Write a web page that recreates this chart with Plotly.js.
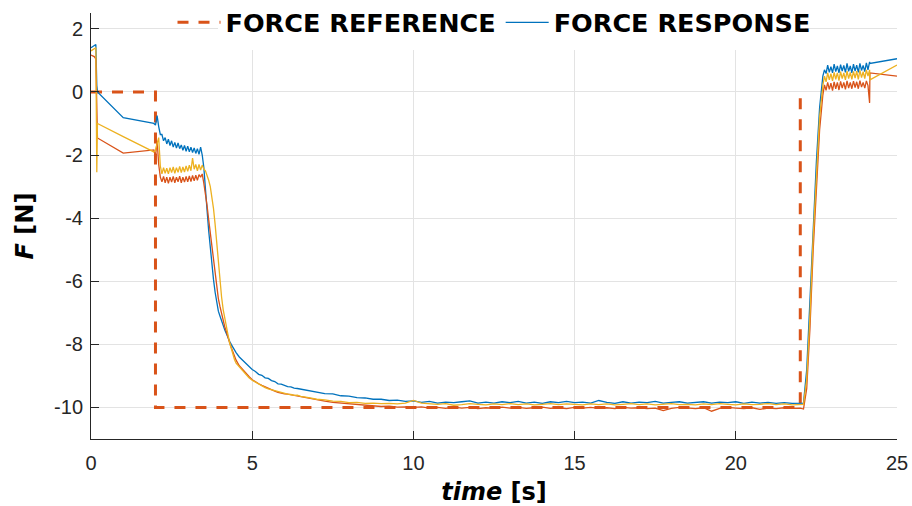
<!DOCTYPE html>
<html>
<head>
<meta charset="utf-8">
<script src="https://cdn.plot.ly/plotly-3.0.1.min.js"></script>
<style>html,body{margin:0;padding:0;background:#fff;}#chart{width:912px;height:506px;}</style>
</head>
<body>
<div id="chart"></div>
<script>
// Force reference (step command)
const refTime = [0, 2, 2, 22, 22];
const refForce = [0, 0, -10, -10, 0];

// Shared time base for the three measured responses [s]
const time = [
  0, 0.1, 0.15, 0.18, 0.2, 1.0, 1.95, 2.0, 2.05, 2.1, 2.15,
  2.2, 2.25, 2.3, 2.35, 2.4, 2.45, 2.5, 2.55, 2.6, 2.65, 2.7, 2.75, 2.8, 2.85, 2.9, 2.95,
  3.0, 3.05, 3.1, 3.15, 3.2, 3.25, 3.3, 3.35, 3.4, 3.45, 3.5,
  3.55, 3.6, 3.65, 3.7, 3.75, 3.8, 3.85, 3.9, 3.95, 4.0, 4.05, 4.1, 4.15, 4.2, 4.25, 4.3, 4.35, 4.4, 4.45, 4.5,
  4.6, 4.7, 4.8, 4.9, 5.0, 5.1, 5.2, 5.3, 5.4, 5.5, 5.6, 5.7, 5.8, 5.9, 6.0, 6.1, 6.2, 6.3, 6.4,
  6.5, 6.75, 7, 7.25, 7.5, 7.75, 8, 8.25, 8.5, 8.75, 9, 9.25, 9.5, 9.75,
  10, 10.25, 10.5, 10.75, 11, 11.25, 11.5, 11.75, 12, 12.25, 12.5, 12.75,
  13, 13.25, 13.5, 13.75, 14, 14.25, 14.5, 14.75, 15, 15.25, 15.5, 15.75,
  16, 16.25, 16.5, 16.75, 17, 17.25, 17.5, 17.75, 18, 18.25, 18.5, 18.75,
  19, 19.25, 19.5, 19.75, 20, 20.25, 20.5, 20.75, 21, 21.25, 21.5, 21.75,
  22,
  22.1, 22.2, 22.3, 22.4, 22.5, 22.6,
  22.7, 22.75, 22.8, 22.85, 22.9, 22.95, 23.0, 23.05, 23.1, 23.15, 23.2, 23.25, 23.3, 23.35, 23.4,
  23.45, 23.5, 23.55, 23.6, 23.65, 23.7, 23.75, 23.8, 23.85, 23.9, 23.95, 24.0, 24.05, 24.1,
  24.15, 24.16, 25
];

// Response 1 (blue) [N]
const respBlue = [
  1.4, 1.45, 1.5, 0.2, 0.0, -0.82, -1.0, -1.05, -0.75, -1.1, -1.35,
  -1.35, -1.55, -1.45, -1.65, -1.5, -1.7, -1.55, -1.75, -1.6, -1.78, -1.62, -1.8, -1.68, -1.85, -1.7, -1.88,
  -1.72, -1.9, -1.75, -1.92, -1.78, -1.95, -1.8, -1.98, -1.75, -2.0, -2.4,
  -3.2, -3.75, -4.4, -5.0, -5.5, -5.95, -6.35, -6.7, -6.95, -7.1, -7.28, -7.4, -7.55, -7.68, -7.8, -7.9, -8.0, -8.1, -8.18, -8.26,
  -8.4, -8.5, -8.63, -8.7, -8.8, -8.86, -8.95, -8.98, -9.06, -9.08, -9.15, -9.18, -9.25, -9.26, -9.3, -9.34, -9.35, -9.39, -9.4,
  -9.42, -9.47, -9.5, -9.56, -9.57, -9.63, -9.64, -9.69, -9.7, -9.74, -9.74, -9.78, -9.77, -9.81,
  -9.79, -9.84, -9.81, -9.86, -9.83, -9.85, -9.82, -9.79, -9.86, -9.83, -9.86, -9.82,
  -9.85, -9.81, -9.86, -9.83, -9.87, -9.82, -9.85, -9.81, -9.85, -9.83, -9.86, -9.78,
  -9.84, -9.87, -9.82, -9.86, -9.83, -9.85, -9.81, -9.86, -9.84, -9.82, -9.86, -9.83,
  -9.82, -9.86, -9.83, -9.85, -9.82, -9.87, -9.83, -9.86, -9.84, -9.87, -9.85, -9.87,
  -9.85,
  -9.86, -8.8, -6.7, -4.2, -2.2, -0.5,
  0.5, 0.7, 0.58, 0.85, 0.62, 0.8, 0.6, 0.88, 0.64, 0.82, 0.6, 0.86, 0.66, 0.84, 0.62,
  0.9, 0.65, 0.82, 0.6, 0.88, 0.66, 0.85, 0.62, 0.9, 0.68, 0.84, 0.64, 0.92, 0.7,
  0.95, 0.9, 1.05
];

// Response 2 (orange-red) [N]
const respRed = [
  1.17, 1.12, 1.05, -1.2, -1.46, -1.94, -1.84, -2.05, -1.55, -2.3, -2.7,
  -2.85, -2.68, -2.88, -2.7, -2.9, -2.7, -2.86, -2.68, -2.88, -2.7, -2.85, -2.67, -2.88, -2.7, -2.86, -2.68,
  -2.85, -2.66, -2.84, -2.65, -2.82, -2.64, -2.8, -2.62, -2.7, -2.6, -2.9,
  -3.2, -3.6, -4.05, -4.45, -4.85, -5.3, -5.75, -6.2, -6.55, -6.8, -7.05, -7.25, -7.45, -7.6, -7.8, -7.95, -8.1, -8.25, -8.38, -8.5,
  -8.68, -8.8, -8.92, -9.02, -9.12, -9.19, -9.25, -9.3, -9.35, -9.4, -9.44, -9.48, -9.52, -9.55, -9.57, -9.58, -9.6, -9.62, -9.63,
  -9.66, -9.72, -9.76, -9.8, -9.84, -9.86, -9.9, -9.91, -9.94, -9.95, -9.97, -9.96, -9.99, -9.98,
  -10.0, -9.98, -10.02, -10.0, -10.03, -9.99, -10.02, -10.0, -10.04, -10.01, -10.03, -9.99,
  -10.02, -10.0, -10.03, -10.01, -9.99, -10.03, -10.01, -10.04, -10.0, -10.02, -10.0, -10.03,
  -10.01, -10.04, -10.0, -10.02, -10.01, -10.04, -10.02, -10.1, -10.03, -10.0, -10.02, -10.04,
  -10.01, -10.12, -10.03, -10.0, -10.02, -10.04, -10.01, -10.06, -10.02, -10.04, -10.01, -10.03,
  -10.02,
  -10.05, -9.4, -7.5, -5.0, -3.0, -1.2,
  -0.1, 0.22, 0.05, 0.3, 0.08, 0.28, 0.04, 0.32, 0.1, 0.3, 0.06, 0.33, 0.12, 0.3, 0.08,
  0.35, 0.12, 0.3, 0.1, 0.34, 0.14, 0.32, 0.1, 0.36, 0.15, 0.3, 0.12, 0.35, 0.2,
  -0.35, 0.6, 0.5
];

// Response 3 (yellow) [N]
const respYellow = [
  1.3, 1.35, 1.4, -2.55, -1.0, -1.42, -1.9, -1.85, -1.65, -1.45, -2.35,
  -2.6, -2.4, -2.58, -2.42, -2.6, -2.4, -2.56, -2.38, -2.58, -2.4, -2.55, -2.36, -2.56, -2.38, -2.54, -2.35,
  -2.52, -2.32, -2.5, -2.1, -2.45, -2.3, -2.5, -2.3, -2.48, -2.32, -2.45,
  -2.5, -2.62, -2.8, -3.0, -3.3, -3.7, -4.2, -4.8, -5.35, -6.0, -6.5, -6.9, -7.2, -7.45, -7.7, -7.95, -8.15, -8.33, -8.48, -8.6,
  -8.72, -8.85, -8.97, -9.06, -9.14, -9.2, -9.27, -9.31, -9.37, -9.41, -9.44, -9.48, -9.51, -9.54, -9.55, -9.58, -9.59, -9.62, -9.61,
  -9.65, -9.69, -9.74, -9.76, -9.8, -9.81, -9.85, -9.84, -9.87, -9.86, -9.88, -9.87, -9.89, -9.86,
  -9.78, -9.86, -9.89, -9.9, -9.88, -9.93, -9.91, -9.88, -9.9, -9.92, -9.89, -9.91,
  -9.88, -9.91, -9.89, -9.92, -9.9, -9.88, -9.91, -9.89, -9.9, -9.92, -9.89, -9.91,
  -9.89, -9.92, -9.9, -9.88, -9.91, -9.89, -9.92, -9.9, -9.88, -9.91, -9.9, -9.92,
  -9.89, -9.91, -9.88, -9.9, -9.92, -9.89, -9.91, -9.9, -9.88, -9.91, -9.89, -9.92,
  -9.9,
  -9.9, -9.1, -7.1, -4.6, -2.6, -0.8,
  0.2, 0.5, 0.32, 0.6, 0.38, 0.58, 0.35, 0.62, 0.4, 0.6, 0.36, 0.64, 0.42, 0.6, 0.38,
  0.66, 0.42, 0.62, 0.4, 0.65, 0.44, 0.66, 0.4, 0.68, 0.45, 0.64, 0.42, 0.7, 0.5,
  0.7, 0.38, 0.85
];

const xTickVals = [0, 5, 10, 15, 20, 25];
const yTickVals = [-10, -8, -6, -4, -2, 0, 2];

const traces = [
  {x: refTime, y: refForce, type: 'scatter', mode: 'lines', name: 'FORCE REFERENCE',
   line: {color: '#D95319', width: 3, dash: '11px,10px'}},
  {x: time, y: respBlue, type: 'scatter', mode: 'lines', name: 'FORCE RESPONSE',
   line: {color: '#0072BD', width: 1.3}},
  {x: time, y: respRed, type: 'scatter', mode: 'lines', name: 'resp2', showlegend: false,
   line: {color: '#D95319', width: 1.3}},
  {x: time, y: respYellow, type: 'scatter', mode: 'lines', name: 'resp3', showlegend: false,
   line: {color: '#EDB120', width: 1.3}}
];

const axisCommon = {
  showline: true, linecolor: '#262626', linewidth: 1,
  ticks: 'inside', ticklen: 8, tickcolor: '#262626', tickwidth: 1,
  showgrid: true, gridcolor: '#e3e3e3', gridwidth: 1,
  zeroline: false,
  tickfont: {family: 'Liberation Sans, Arial, sans-serif', size: 20, color: '#262626'},
  automargin: false
};

const layout = {
  width: 912, height: 506,
  margin: {l: 91, r: 15, t: 13, b: 67, autoexpand: false},
  paper_bgcolor: '#ffffff', plot_bgcolor: '#ffffff',
  showlegend: true,
  legend: {
    orientation: 'h', x: 0.5, xanchor: 'center', y: 0.977, yanchor: 'middle',
    bgcolor: 'rgba(0,0,0,0)', borderwidth: 0, itemwidth: 43,
    font: {family: 'DejaVu Sans', size: 25.5, color: '#000000', weight: 'bold'}
  },
  xaxis: Object.assign({}, axisCommon, {
    range: [0, 25], tickvals: xTickVals, ticktext: xTickVals.map(String),
    ticklabelstandoff: 6,
    title: {text: '<b><i>time</i> [s]</b>', font: {family: 'DejaVu Sans', size: 24, color: '#000000'}, standoff: 10}
  }),
  yaxis: Object.assign({}, axisCommon, {
    range: [-11, 2.5], tickvals: yTickVals, ticktext: yTickVals.map(String),
    ticklabelstandoff: 3,
    title: {text: '<b><i>F</i> [N]</b>', font: {family: 'DejaVu Sans', size: 24, color: '#000000'}, standoff: 13}
  }),
  shapes: [
    {type: 'rect', xref: 'x', yref: 'paper', x0: 3.94, x1: 22.15, y0: 0.913, y1: 1.0,
     fillcolor: '#ffffff', line: {width: 0}, layer: 'above'}
  ]
};

Plotly.newPlot('chart', traces, layout, {displayModeBar: false, staticPlot: true});
</script>
</body>
</html>
